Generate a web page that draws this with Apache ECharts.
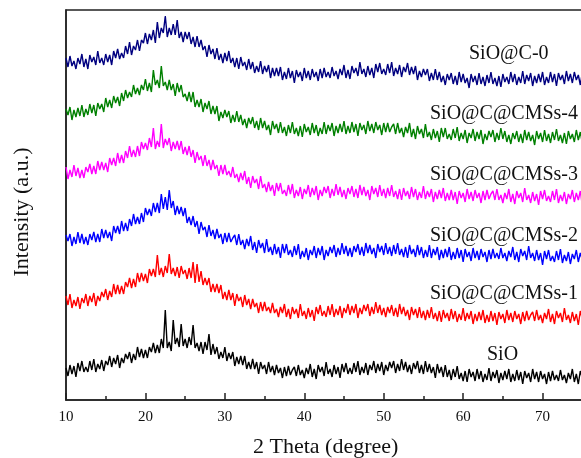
<!DOCTYPE html>
<html>
<head>
<meta charset="utf-8">
<script src="https://cdn.jsdelivr.net/npm/echarts@6/dist/echarts.min.js"></script>
<style>
  html, body { margin: 0; padding: 0; background: #fff; }
  #chart { width: 581px; height: 458px; }
</style>
</head>
<body>
<div id="chart"></div>
<script>
// 2 theta sampling grid (degree), 10 .. 75 every 0.25
var thetaStart = 10, thetaStep = 0.25, thetaCount = 261;
var twoTheta = [];
for (var k = 0; k < thetaCount; k++) twoTheta.push(thetaStart + k * thetaStep);

var xTicks = [10, 20, 30, 40, 50, 60, 70, 80];
var sampleNames = ['SiO@C-0', 'SiO@C@CMSs-4', 'SiO@C@CMSs-3', 'SiO@C@CMSs-2', 'SiO@C@CMSs-1', 'SiO'];
var sampleColors = ['#000080', '#008000', '#ff00ff', '#0000ff', '#ff0000', '#000000'];

// intensities (a.u., vertically offset as in the figure)
var sioC0 = [
  342,333,344,334,339,331,342,336,346,333, 341,331,345,338,343,335,349,337,342,335,
  346,338,345,335,349,342,351,341,347,342, 354,346,358,345,354,350,360,349,360,357,
  367,356,366,360,370,357,378,362,372,367, 384,363,372,365,376,365,380,362,368,358,
  368,361,368,356,363,353,364,353,360,350, 354,343,355,346,351,341,352,340,346,337,
  347,339,349,337,342,333,342,331,343,334, 338,330,341,331,338,327,334,328,339,326,
  334,328,335,322,332,324,332,324,333,320, 328,321,332,322,329,317,330,323,328,319,
  332,322,329,320,331,323,328,319,331,322, 332,323,328,322,333,324,329,321,331,325,
  335,322,330,321,334,327,332,324,338,326, 331,323,334,325,332,322,336,328,337,326,
  331,325,336,327,338,324,332,326,335,323, 333,328,337,325,333,326,334,320,329,323,
  331,325,331,319,327,320,331,320,328,318, 324,315,326,320,327,316,324,315,328,318,
  326,317,322,312,326,318,324,315,327,316, 323,314,325,317,328,316,322,314,324,313,
  326,318,323,316,328,318,326,315,323,317, 329,316,325,319,327,314,324,317,326,318,
  328,315,323,317,328,318,326,314,327,320, 325,316,329,319,326,317,328,320,325,315,
  327
];
var cms4 = [
  291,285,293,280,290,283,292,284,295,283, 291,285,296,287,295,284,297,291,296,288,
  302,293,300,292,304,297,303,294,307,299, 310,302,308,303,315,306,312,305,315,310,
  321,309,317,308,330,315,320,312,334,314, 318,310,320,310,316,304,317,308,315,303,
  306,299,308,298,308,293,300,293,301,288, 297,291,299,286,294,286,294,279,288,282,
  290,283,289,277,285,278,289,278,285,275, 281,272,282,276,283,272,279,270,282,272,
  279,270,275,265,279,271,276,267,278,267, 273,264,275,267,278,266,272,264,274,263,
  276,268,273,265,277,267,275,264,272,266, 278,266,275,269,277,264,274,267,276,268,
  279,266,274,267,278,268,276,264,277,270, 275,266,279,269,276,267,278,270,275,265,
  277,268,277,268,273,276,266,277,267,272, 263,273,267,277,263,271,261,274,266,271,
  262,276,263,268,260,271,262,269,258,272, 263,272,261,266,260,271,262,273,259,267,
  261,270,257,267,262,271,259,268,261,270, 256,266,260,269,263,270,258,267,260,272,
  261,269,258,265,256,267,261,269,258,266, 257,270,260,268,259,265,255,269,261,267,
  258,270,259,266,257,268,260,271,259,265, 257,267,256,269,261,266,258,270,260,268,
  257
];
var cms3 = [
  233,221,230,223,235,224,232,222,230,222, 233,228,236,226,234,226,239,230,238,230,
  237,228,242,235,242,234,247,237,245,237, 249,242,254,243,250,243,254,244,258,251,
  257,250,262,253,272,251,259,253,276,252, 261,255,262,249,258,251,259,250,259,246,
  253,245,254,243,250,237,248,240,244,234, 245,234,240,230,240,231,235,224,235,226,
  235,225,229,223,233,222,226,218,227,220, 229,216,223,212,224,217,221,211,224,212,
  216,208,218,209,215,204,217,209,217,206, 210,204,215,206,216,202,210,204,213,201,
  211,206,215,203,212,205,214,200,210,204, 213,207,214,202,211,204,216,205,213,203,
  210,201,212,206,214,203,211,202,215,205, 213,204,210,200,214,206,212,203,215,204,
  211,202,212,204,215,203,209,201,211,200, 212,204,209,201,213,203,211,200,208,202,
  214,201,209,203,211,198,208,201,210,202, 212,199,207,200,210,200,208,196,209,202,
  207,198,211,201,208,199,210,202,207,197, 209,200,210,201,206,209,200,211,200,205,
  197,207,201,211,198,206,196,209,202,207, 198,212,200,205,197,208,199,206,195,209,
  201,210,199,204,198,209,200,211,197,205, 199,208,196,206,201,210,198,207,200,209,
  195
];
var cms2 = [
  165,159,166,154,163,156,168,157,166,156, 163,155,166,160,168,158,166,158,171,162,
  170,162,168,159,174,167,174,166,179,169, 177,169,181,174,186,176,183,176,187,178,
  192,185,191,184,197,188,197,187,206,191, 203,190,210,192,199,185,194,186,193,184,
  192,177,183,175,184,173,179,166,178,170, 173,163,175,164,170,161,171,162,166,156,
  167,158,167,158,162,165,155,166,155,160, 151,161,154,164,150,158,147,160,152,157,
  147,161,148,153,145,156,146,153,142,156, 147,156,145,150,143,154,145,156,141,149,
  143,152,140,150,145,154,142,152,145,154, 140,150,144,153,147,155,143,152,145,157,
  146,154,144,152,143,154,148,156,145,153, 144,157,147,155,146,152,142,156,148,154,
  145,157,146,153,144,155,146,157,145,151, 143,153,142,155,146,151,143,155,145,153,
  142,150,143,155,142,151,145,153,140,150, 142,151,143,153,140,148,141,152,142,150,
  138,151,143,148,139,152,142,149,140,151, 143,148,138,150,141,151,142,147,141,152,
  142,147,139,149,143,153,140,148,138,151, 144,149,140,154,142,147,139,150,140,147,
  135,149,141,150,139,144,138,149,140,151, 137,145,139,148,136,146,141,150,138,147,
  140
];
var cms1 = [
  104,95,106,92,100,94,103,91,102,97, 106,94,104,98,107,94,104,99,108,103,
  111,100,109,103,116,106,115,106,114,106, 118,113,122,112,121,113,127,118,127,119,
  126,117,131,124,131,123,145,125,132,123, 134,127,146,126,132,124,133,122,134,126,
  130,121,132,122,138,117,136,118,129,115, 122,115,122,108,116,108,116,107,115,101,
  108,100,110,100,107,94,106,99,103,93, 105,95,101,91,101,93,97,87,98,89,
  98,89,93,87,97,87,91,83,93,87, 96,83,91,81,93,86,91,82,96,84,
  89,81,92,83,90,79,93,86,95,84, 89,83,94,85,96,83,91,85,94,82,
  92,87,96,85,94,87,96,82,92,86, 95,89,96,84,93,86,98,87,95,85,
  92,83,93,87,95,84,92,83,96,86, 93,84,90,80,93,85,91,82,93,82,
  89,80,90,82,93,81,87,79,89,78, 90,82,87,79,91,81,89,78,86,80,
  92,79,87,81,89,76,86,79,88,80, 90,77,85,78,89,79,87,75,88,81,
  86,77,90,80,87,78,89,81,86,76, 88,79,89,80,85,88,79,90,80,85,
  77,87,81,91,78,86,76,89,82,87, 78,92,80,85,77,88,79,86,75,89,
  81
];
var sio = [
  32,24,35,26,34,23,37,29,39,28, 33,28,39,30,41,28,36,31,40,29,
  39,35,44,33,42,36,45,32,42,37, 46,41,48,37,46,40,53,43,51,42,
  50,42,53,48,57,47,55,47,61,52, 90,52,58,49,80,56,62,53,76,54,
  61,52,63,55,75,52,57,49,58,46, 58,50,66,45,56,46,53,41,48,42,
  53,39,47,41,48,34,43,36,44,35, 44,31,38,31,41,31,38,26,38,31,
  35,26,38,28,34,25,35,27,32,22, 33,24,34,25,30,33,24,35,25,30,
  22,32,26,36,23,31,21,35,28,33, 24,38,26,31,23,35,26,33,22,36,
  28,37,26,32,26,37,28,39,25,33, 27,37,25,35,30,39,27,36,29,38,
  25,35,29,38,32,39,27,36,29,41, 30,38,28,35,26,37,31,39,27,35,
  26,39,28,36,27,33,22,36,27,33, 23,35,23,30,20,31,23,34,21,27,
  19,29,18,31,23,28,19,31,21,29, 18,26,20,32,19,28,22,30,17,27,
  20,29,21,31,18,26,19,30,20,28, 16,29,22,27,18,31,21,28,18,29,
  21,26,16,28,19,29,20,25,19,30, 20,25,17,27,21,31,18,26,16,29,
  22
];

var seriesValues = [sioC0, cms4, cms3, cms2, cms1, sio];

function pairs(values) {
  return values.map(function (v, i) { return [twoTheta[i], v]; });
}

var serif = '"Liberation Serif", "Times New Roman", serif';
var chart = echarts.init(document.getElementById('chart'));

// where the sample names sit (px, left edge / cap middle)
var labelPos = [[469, 52], [430, 112], [430, 173], [430, 234], [430, 292], [487, 353]];

var option = {
  animation: false,
  backgroundColor: '#fff',
  grid: {
    left: 66, top: 10, width: 556, height: 390,
    outerBoundsMode: 'none', containLabel: false,
    show: true, borderColor: '#222', borderWidth: 1.5, backgroundColor: 'transparent'
  },
  xAxis: {
    type: 'value',
    min: xTicks[0],
    max: xTicks[xTicks.length - 1],
    interval: 10,
    axisLine: { show: true, lineStyle: { color: '#222', width: 1.5 } },
    axisTick: { show: true, inside: true, length: 7, lineStyle: { color: '#222', width: 1.5 } },
    minorTick: { show: true, splitNumber: 2, length: 4, lineStyle: { color: '#222', width: 1.5 } },
    axisLabel: { fontFamily: serif, fontSize: 15, color: '#111', margin: 10 },
    splitLine: { show: false }
  },
  yAxis: {
    type: 'value',
    min: 0, max: 390,
    axisLine: { show: true, lineStyle: { color: '#222', width: 1.5 } },
    axisTick: { show: false },
    axisLabel: { show: false },
    splitLine: { show: false }
  },
  series: seriesValues.map(function (vals, s) {
    return {
      name: sampleNames[s],
      type: 'line',
      data: pairs(vals),
      showSymbol: false,
      symbol: 'none',
      sampling: null,
      lineStyle: { color: sampleColors[s], width: 1.4 },
      itemStyle: { color: sampleColors[s] }
    };
  }),
  graphic: sampleNames.map(function (name, s) {
    return {
      type: 'text', left: labelPos[s][0], top: labelPos[s][1] - 8,
      style: { text: name, fontFamily: serif, fontSize: 20, fill: '#111' }
    };
  }).concat([
    {
      type: 'text', left: 253, top: 436,
      style: { text: '2 Theta (degree)', fontFamily: serif, fontSize: 22, fill: '#111' }
    },
    {
      type: 'text', x: 22, y: 212, rotation: Math.PI / 2,
      style: { text: 'Intensity (a.u.)', fontFamily: serif, fontSize: 22, fill: '#111',
               align: 'center', verticalAlign: 'middle' }
    }
  ])
};
chart.setOption(option);
</script>
</body>
</html>
